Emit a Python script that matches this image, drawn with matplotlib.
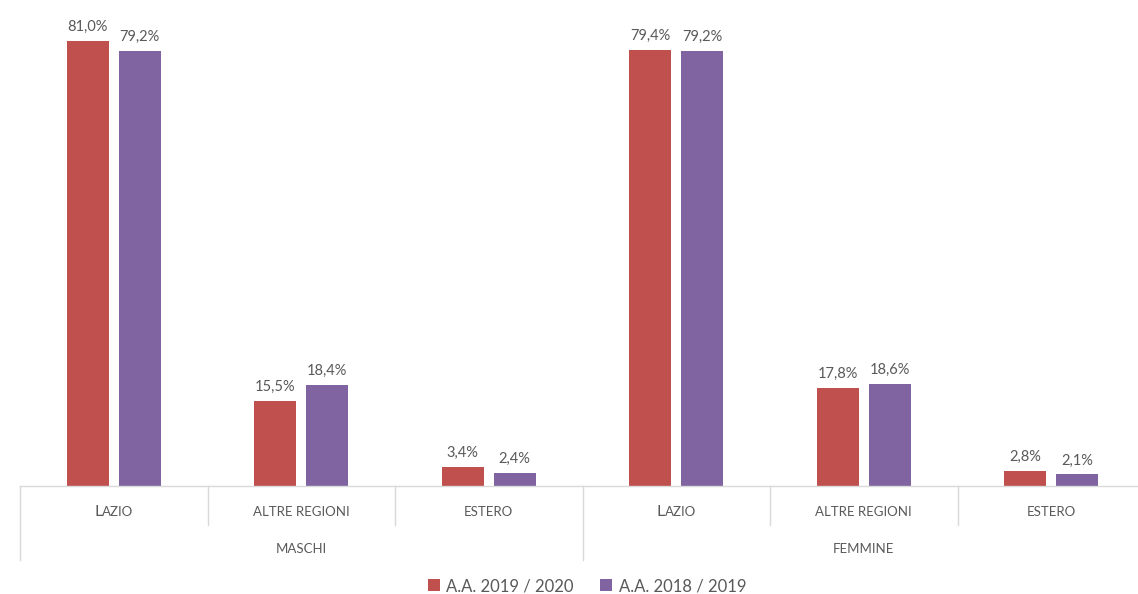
import matplotlib.pyplot as plt
from matplotlib.offsetbox import TextArea, HPacker, AnnotationBbox
import numpy as np

# Data
groups = ['MASCHI', 'FEMMINE']
regions = ['LAZIO', 'ALTRE REGIONI', 'ESTERO']
aa_2019_2020 = [81.0, 15.5, 3.4, 79.4, 17.8, 2.8]
aa_2018_2019 = [79.2, 18.4, 2.4, 79.2, 18.6, 2.1]
series_labels = ['A.A. 2019 / 2020', 'A.A. 2018 / 2019']

RED = '#C0504D'
PURPLE = '#8064A2'
TXT = '#595959'
GRID = '#D9D9D9'
FONT = 'Lato'

plt.rcParams['font.family'] = [FONT, 'DejaVu Sans']

W, H = 1138, 594
fig = plt.figure(figsize=(W / 100, H / 100), dpi=100)
ax_left, ax_bottom = 20, 486
ax = fig.add_axes([ax_left / W, (H - ax_bottom) / H, (W - ax_left) / W, ax_bottom / H])

unit = 187.5  # pixels per category
x = np.arange(len(aa_2019_2020))
bw = 42 / unit
off = 26 / unit

b1 = ax.bar(x - off, aa_2019_2020, width=bw, color=RED, label=series_labels[0])
b2 = ax.bar(x + off, aa_2018_2019, width=bw, color=PURPLE, label=series_labels[1])

for bars, vals in ((b1, aa_2019_2020), (b2, aa_2018_2019)):
    for r, v in zip(bars, vals):
        ax.annotate(f'{v:.1f}%'.replace('.', ','), (r.get_x() + r.get_width() / 2, v),
                    xytext=(0, 5), textcoords='offset points', ha='center', va='bottom',
                    fontsize=10.5, color=TXT)

ax.set_xlim(-0.5, -0.5 + (W - ax_left) / unit)
ax.set_ylim(0, ax_bottom / 5.49)
ax.axis('off')

# baseline
ax.plot([-0.5, 6], [0, 0], color=GRID, lw=1, clip_on=False)

# category separators (below axis, in axes transform for y)
trans = ax.get_xaxis_transform()
px = 1 / ax_bottom  # one pixel in axes-fraction units (y)
for i in range(len(x) + 1):
    xs = i - 0.5
    long_sep = i % 3 == 0
    y_end = -(74 if long_sep else 39) * px
    ax.plot([xs, xs], [0, y_end], color=GRID, lw=1, transform=trans, clip_on=False)

# category labels
for i in range(len(x)):
    name = regions[i % 3]
    if name == 'LAZIO':
        box = HPacker(children=[TextArea('L', textprops=dict(fontsize=11.5, color=TXT)),
                                TextArea('AZIO', textprops=dict(fontsize=9.5, color=TXT))],
                      align='baseline', pad=0, sep=0)
        ab = AnnotationBbox(box, (i, -26 * px), xycoords=trans, frameon=False,
                            box_alignment=(0.5, 0.5), annotation_clip=False)
        ax.add_artist(ab)
    else:
        ax.text(i, -26 * px, name, transform=trans, ha='center', va='center',
                fontsize=9.5, color=TXT)

for g, name in enumerate(groups):
    ax.text(g * 3 + 1, -63 * px, name, transform=trans, ha='center', va='center',
            fontsize=9.5, color=TXT)

fig.legend(handles=[b1, b2], labels=series_labels, loc='center', bbox_to_anchor=(587 / W, 1 - 586 / H),
           ncol=2, frameon=False, fontsize=12, labelcolor=TXT, handlelength=0.7, handleheight=0.7,
           handletextpad=0.4, columnspacing=1.6)

fig.savefig('out.png', dpi=100, facecolor='white')
